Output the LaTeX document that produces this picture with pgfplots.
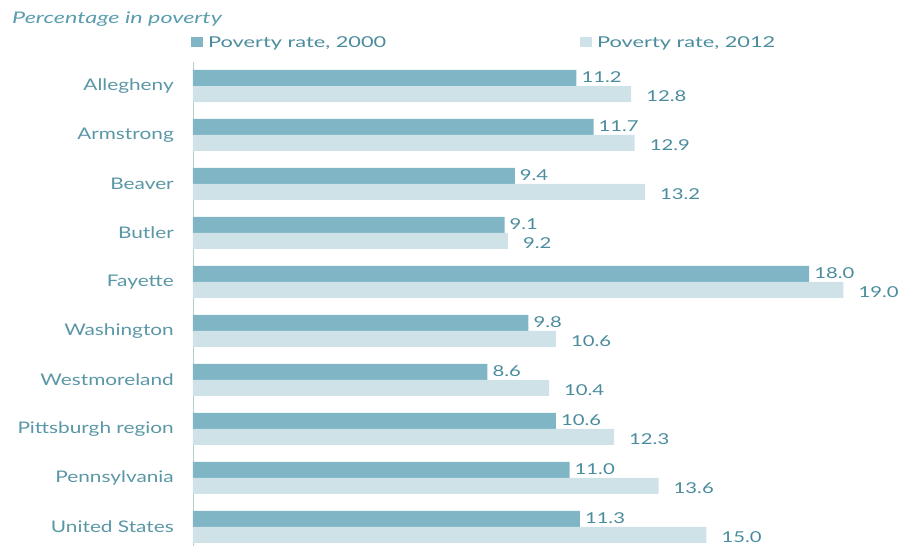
\documentclass[border=0pt]{standalone}
\usepackage{fontspec}
\setmainfont{Lato}
\newfontfamily\catfont[FakeStretch=1.3]{Lato}
\newfontfamily\numfont[FakeStretch=1.35]{Lato}
\newfontfamily\legfont[FakeStretch=1.45]{Lato}
\newfontfamily\subfont[FakeStretch=1.46]{Lato}
\usepackage{pgfplots}
\pgfplotsset{compat=1.18}

\definecolor{bardark}{HTML}{80B5C5}
\definecolor{barlight}{HTML}{CFE2E8}
\definecolor{labteal}{HTML}{4A8C9D}
\definecolor{cattext}{HTML}{5A97A6}
\definecolor{subteal}{HTML}{5A9DAE}
\definecolor{axisgray}{HTML}{B5CCD3}

\begin{document}
\begin{tikzpicture}
\begin{axis}[
    scale only axis,
    width=712pt, height=484pt,
    xmin=0, xmax=20.8,
    ymin=-0.49, ymax=9.39,
    y dir=reverse,
    xbar,
    bar width=16pt,
    clip=false,
    axis x line=none,
    axis y line*=left,
    y axis line style={draw=axisgray, line width=0.8pt, -},
    ytick={0,...,9},
    yticklabels={Allegheny,Armstrong,Beaver,Butler,Fayette,Washington,Westmoreland,Pittsburgh region,Pennsylvania,United States},
    major tick length=0pt,
    yticklabel style={font=\catfont\fontsize{16}{19}\selectfont, color=cattext, inner sep=0pt, xshift=-19pt},
    nodes near coords,
    every node near coord/.append style={font=\numfont\fontsize{15}{18}\selectfont, color=labteal, inner sep=0pt},
    /pgf/number format/.cd, fixed, fixed zerofill, precision=1, assume math mode=true,
    /pgfplots/.cd,
    legend columns=2,
    legend style={draw=none, fill=none, inner sep=0pt, at={(0,1)}, anchor=south west, xshift=-2pt, yshift=11pt,
        font=\legfont\fontsize{15}{18}\selectfont, text=labteal,
        /tikz/every even column/.append style={column sep=192pt}},
    legend image code/.code={\fill[#1] (0pt,-4pt) rectangle (12pt,6pt); \path (0pt,0pt) -- (15pt,0pt);},
]
\addplot[fill=bardark, draw=none, bar shift=8pt,
    every node near coord/.append style={xshift=5pt, yshift=1pt}] coordinates {
    (11.2,0) (11.7,1) (9.4,2) (9.1,3) (18.0,4) (9.8,5) (8.6,6) (10.6,7) (11.0,8) (11.3,9)
};
\addplot[fill=barlight, draw=none, bar shift=-8pt,
    every node near coord/.append style={xshift=15pt, yshift=-2pt}] coordinates {
    (12.8,0) (12.9,1) (13.2,2) (9.2,3) (19.0,4) (10.6,5) (10.4,6) (12.3,7) (13.6,8) (15.0,9)
};
\legend{{Poverty rate, 2000},{Poverty rate, 2012}}
\end{axis}
\node[anchor=west, inner sep=0pt, font=\subfont\fontsize{16}{19}\selectfont\itshape, text=subteal] at (-181pt,527pt) {Percentage in poverty};
\pgfresetboundingbox
\useasboundingbox (-193pt,0pt) rectangle (712pt,546pt);
\end{tikzpicture}
\end{document}
